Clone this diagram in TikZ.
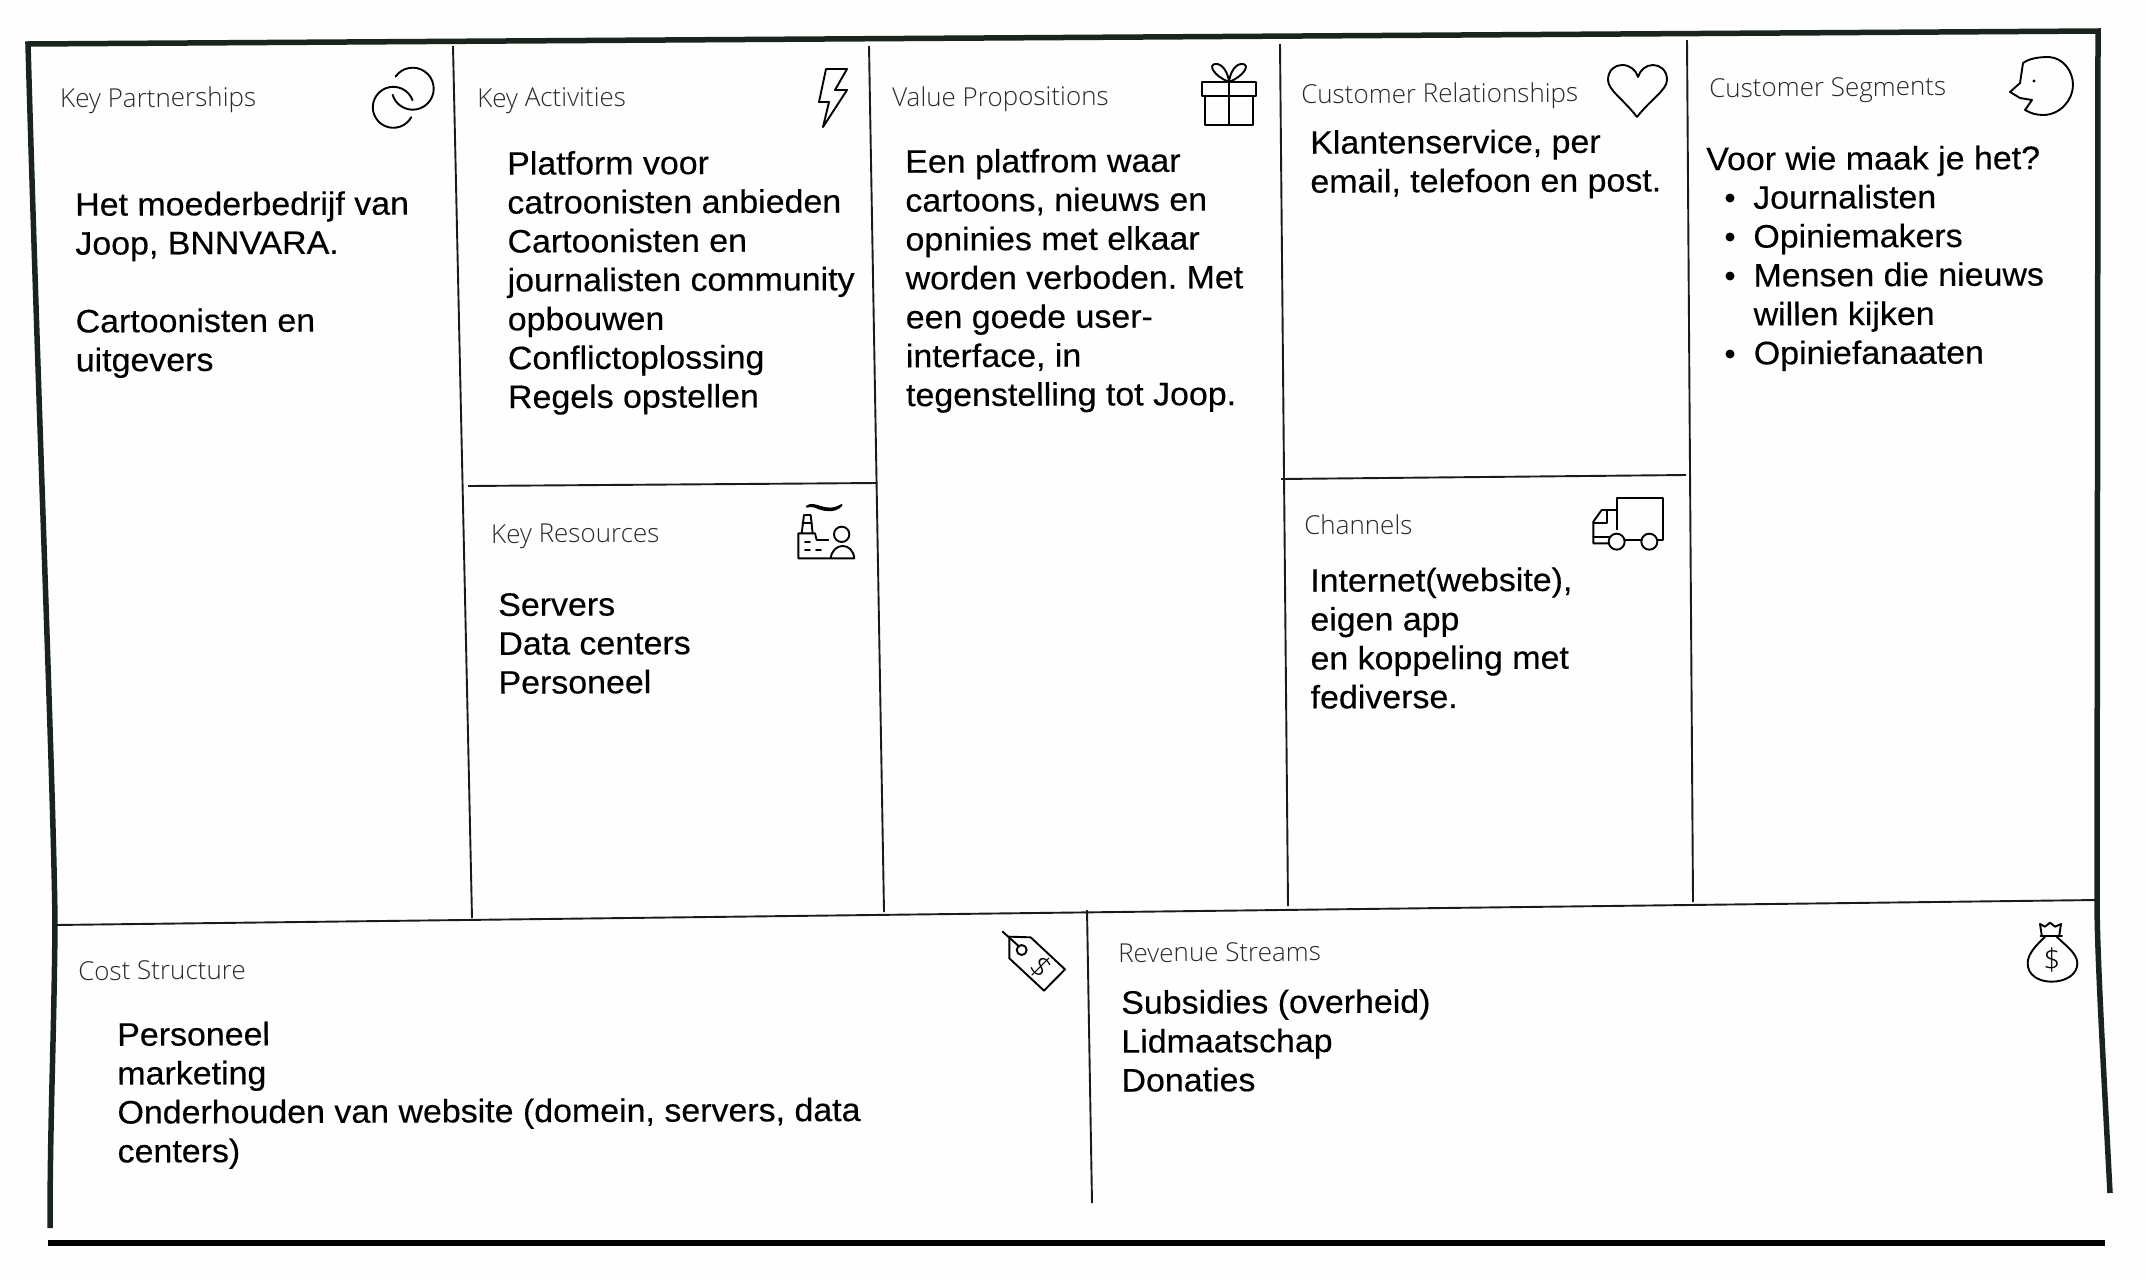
\documentclass[tikz,border=0pt]{standalone}
\usepackage{fontspec}
\setmainfont[FakeStretch=1.044,FakeBold=0.35]{Liberation Sans}
\newfontfamily\titlefont{Open Sans Light}
\definecolor{framecol}{HTML}{18241C}
\definecolor{gridcol}{HTML}{1A1A1A}
\definecolor{titlecol}{HTML}{2A2A2A}
\definecolor{papercol}{HTML}{FEFEFE}
\tikzset{
  framel/.style={draw=framecol,line width=5.5pt},
  gridl/.style={draw=gridcol,line width=1.9pt},
  iconl/.style={draw=black,line width=1.9pt,line join=round,line cap=round},
  bodytxt/.style={anchor=north west,inner sep=0pt,align=left,rotate=0.2,text=black,
    font=\fontsize{32.5}{38.9}\selectfont\frenchspacing,execute at begin node={\rule{0pt}{26pt}}},
  titletxt/.style={anchor=west,inner sep=0pt,rotate=0.4,text=titlecol,
    font=\titlefont\fontsize{26}{30}\selectfont},
  icontxt/.style={inner sep=0pt,text=black,font=\titlefont\fontsize{30}{30}\selectfont},
  icon/.style={shift={#1},scale=0.3333}
}
\begin{document}
\begin{tikzpicture}[x=1pt,y=-1pt]
\useasboundingbox[fill=papercol] (0,0) rectangle (2146,1280);
% frame
\coordinate (tl) at (28,44);
\coordinate (tr) at (2098,31);
\draw[framel] (2110,1193) .. controls (2102,1040) and (2097,950) .. (2097,900) -- (tr) -- (tl)
   .. controls (38,400) and (54,800) .. (55,925) .. controls (54,1040) and (50,1120) .. (50,1228);
\draw[draw=black,line width=5.5pt] (48,1243) -- (2105,1243);
% grid
\draw[gridl] (453,46) -- (472,918);
\draw[gridl] (869,46) -- (884,912);
\draw[gridl] (1280,44) -- (1288,906);
\draw[gridl] (1687,40) -- (1693,902);
\draw[gridl] (468,486) -- (877,483);
\draw[gridl] (1281,479) -- (1686,475);
\draw[gridl] (55,925) -- (2097,900);
\draw[gridl] (1087,910) -- (1092,1203);
% titles
\node[titletxt] (tKP) at (60,101) {Key Partnerships};
\node[titletxt] (tKA) at (477,101) {Key Activities};
\node[titletxt] (tVP) at (892,100) {Value Propositions};
\node[titletxt] (tCR) at (1301,97) {Customer Relationships};
\node[titletxt] (tCS) at (1709,91) {Customer Segments};
\node[titletxt] (tKR) at (491,537) {Key Resources};
\node[titletxt] (tCh) at (1304,525) {Channels};
\node[titletxt] (tCo) at (78,971) {Cost Structure};
\node[titletxt] (tRe) at (1118,953) {Revenue Streams};
% bodies
\node[bodytxt] (bKP) at (75,192) {Het moederbedrijf van\\Joop, BNNVARA.\\[38.9pt]Cartoonisten en\\uitgevers};
\node[bodytxt] (bKA) at (507,151) {Platform voor\\catroonisten anbieden\\Cartoonisten en\\journalisten community\\opbouwen\\Conflictoplossing\\Regels opstellen};
\node[bodytxt] (bKR) at (498,593) {Servers\\Data centers\\Personeel};
\node[bodytxt] (bVP) at (905,149) {Een platfrom waar\\cartoons, nieuws en\\opninies met elkaar\\worden verboden. Met\\een goede user-\\interface, in\\tegenstelling tot Joop.};
\node[bodytxt] (bCR) at (1310,130) {Klantenservice, per\\email, telefoon en post.};
\node[bodytxt] (bCh) at (1310,568) {Internet(website),\\eigen app\\en koppeling met\\fediverse.};
\node[bodytxt] (bCS) at (1706,144) {Voor wie maak je het?};
\node[bodytxt] (bCL) at (1753,185) {Journalisten\\Opiniemakers\\Mensen die nieuws\\willen kijken\\Opiniefanaaten};
\node[bodytxt] (bCo) at (117,1022) {Personeel\\marketing\\Onderhouden van website (domein, servers, data\\centers)};
\node[bodytxt] (bRe) at (1121,990) {Subsidies (overheid)\\Lidmaatschap\\Donaties};
% bullets
\foreach \yy in {198,237,276,354} \fill[black] (1730,\yy) circle (4.5pt);
% rings
\draw[iconl] (412.7,88.7) ++(145:21pt) arc[start angle=145,end angle=-163,radius=21pt];
\draw[iconl] (393.3,107.3) ++(20:20.5pt) arc[start angle=20,end angle=331,radius=20.5pt];
% bolt
\draw[iconl] (826,69) -- (847,69) -- (835,90) -- (847,90) -- (823,127) -- (829,102) -- (819,102) -- cycle;
% gift
\draw[iconl] (1202,82) rectangle (1256,96);
\draw[iconl] (1205,96) rectangle (1253,125);
\draw[iconl] (1229,82) -- (1229,125);
\draw[iconl] (1229,82) .. controls (1214,76) and (1208,65) .. (1215,64) .. controls (1222,63) and (1228,72) .. (1229,82)
  .. controls (1230,72) and (1236,63) .. (1243,64) .. controls (1250,65) and (1244,76) .. (1229,82);
% heart
\draw[iconl] (1637,117) .. controls (1624,100) and (1608,90) .. (1608,80) .. controls (1608,70) and (1615,65) .. (1622,65)
  .. controls (1630,65) and (1636,70) .. (1638,77) .. controls (1640,70) and (1646,65) .. (1653,65)
  .. controls (1660,65) and (1667,70) .. (1667,80) .. controls (1667,90) and (1650,100) .. (1637,117);
% face
\draw[iconl] (2023,63) .. controls (2030,58) and (2040,57) .. (2049,57) .. controls (2064,58) and (2073,72) .. (2073,85)
  .. controls (2073,100) and (2060,115) .. (2043,115) .. controls (2036,115) and (2030,113) .. (2025,110)
  -- (2032,100) -- (2020,98) -- (2010,92) -- (2020,83) -- (2023,63);
\fill[black] (2034,81) circle (1.6pt);
% factory
\begin{scope}[icon={(760,490)}]
\draw[iconl] (140,50) .. controls (165,30) and (195,75) .. (245,45) .. controls (225,70) and (185,60) .. (165,50) .. controls (155,47) and (148,48) .. (140,50);
\draw[iconl] (125,130) -- (132,75) -- (152,75) -- (158,130);
\draw[iconl] (128,100) -- (155,100);
\draw[iconl] (210,205) -- (115,205) -- (115,130) -- (165,130) -- (170,150) -- (205,150);
\draw[iconl] (135,157) -- (150,157) (135,180) -- (150,180) (168,180) -- (183,180);
\draw[iconl] (245,133) circle (23pt);
\draw[iconl] (212,205) .. controls (215,180) and (232,168) .. (248,168) .. controls (265,168) and (280,180) .. (283,205) -- cycle;
\end{scope}
% truck
\begin{scope}[icon={(1570,480)}]
\draw[iconl] (140,148) -- (140,53) -- (278,53) -- (278,180) -- (262,180);
\draw[iconl] (163,180) -- (215,180);
\draw[iconl] (140,185) circle (24pt);
\draw[iconl] (238,185) circle (24pt);
\draw[iconl] (140,90) -- (95,90) -- (70,125) -- (70,190) -- (116,190);
\draw[iconl] (112,90) -- (112,130) -- (70,130);
\draw[iconl] (70,172) -- (118,172);
\end{scope}
% tag
\begin{scope}[icon={(980,910)}]
\draw[iconl] (68,65) -- (118,110);
\draw[iconl] (88,80) -- (152,82) -- (255,178) -- (192,242) -- (88,145) -- cycle;
\draw[iconl] (125,120) circle (15pt);
\node[icontxt,rotate=-45] (tagd) at (182,172) {\$};
\end{scope}
% bag
\begin{scope}[icon={(2000,900)}]
\draw[iconl] (125,105) -- (120,72) -- (135,80) -- (150,68) -- (165,80) -- (183,72) -- (178,105);
\draw[iconl] (122,108) -- (186,108);
\draw[iconl] (135,110) .. controls (110,135) and (83,160) .. (83,190) .. controls (83,225) and (115,245) .. (155,245)
  .. controls (195,245) and (232,225) .. (232,190) .. controls (232,160) and (195,135) .. (170,110);
\node[icontxt] (bagd) at (156,180) {\$};
\end{scope}
\end{tikzpicture}
\end{document}
